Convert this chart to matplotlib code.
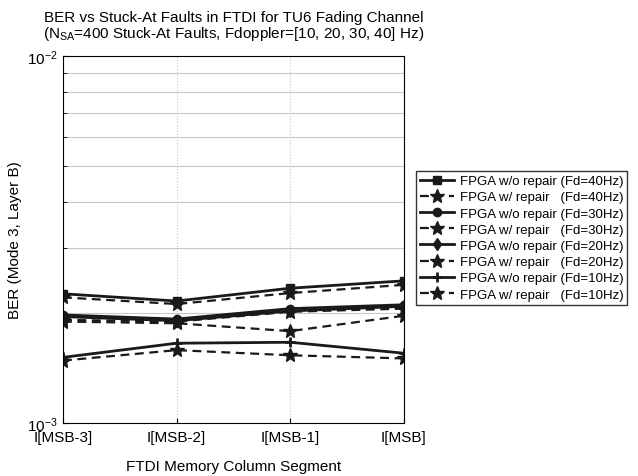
import matplotlib
matplotlib.use("Agg")
import matplotlib.pyplot as plt
import numpy as np

plt.rcParams['font.family'] = ['Liberation Sans', 'DejaVu Sans']
plt.rcParams['mathtext.fontset'] = 'custom'
plt.rcParams['mathtext.rm'] = 'Liberation Sans'
plt.rcParams['mathtext.it'] = 'Liberation Sans:italic'

segments = ['I[MSB-3]', 'I[MSB-2]', 'I[MSB-1]', 'I[MSB]']

# BER values (x 1e-3)
ber_40_wo = [2.25, 2.15, 2.33, 2.44]
ber_40_w = [2.20, 2.11, 2.26, 2.38]
ber_30_wo = [1.97, 1.92, 2.05, 2.10]
ber_30_w = [1.91, 1.89, 2.01, 2.05]
ber_20_wo = [1.95, 1.90, 2.02, 2.08]
ber_20_w = [1.89, 1.87, 1.78, 1.96]
ber_10_wo = [1.51, 1.65, 1.66, 1.55]
ber_10_w = [1.48, 1.58, 1.53, 1.50]

fig = plt.figure(figsize=(6.38, 4.77), dpi=100)
ax = fig.add_axes([0.0987, 0.111, 0.534, 0.7695])

x = np.arange(len(segments))
c = '#1a1a1a'

series = [
    (ber_40_wo, '-', 's', 'FPGA w/o repair (Fd=40Hz)'),
    (ber_40_w, '--', '*', 'FPGA w/ repair   (Fd=40Hz)'),
    (ber_30_wo, '-', 'o', 'FPGA w/o repair (Fd=30Hz)'),
    (ber_30_w, '--', '*', 'FPGA w/ repair   (Fd=30Hz)'),
    (ber_20_wo, '-', 'd', 'FPGA w/o repair (Fd=20Hz)'),
    (ber_20_w, '--', '*', 'FPGA w/ repair   (Fd=20Hz)'),
    (ber_10_wo, '-', '+', 'FPGA w/o repair (Fd=10Hz)'),
    (ber_10_w, '--', '*', 'FPGA w/ repair   (Fd=10Hz)'),
]

for vals, ls, mk, lab in series:
    y = np.array(vals) * 1e-3
    if mk == '*':
        ax.plot(x, y, color=c, ls=ls, lw=1.6, marker=mk, markersize=10, label=lab, dashes=(4, 2.5))
    elif mk == '+':
        ax.plot(x, y, color=c, ls=ls, lw=2, marker=mk, markersize=7, markeredgewidth=2, label=lab)
    else:
        ax.plot(x, y, color=c, ls=ls, lw=2, marker=mk, markersize=6, label=lab)

ax.set_yscale('log')
ax.set_ylim(1e-3, 1e-2)
ax.set_xlim(0, 3)
ax.set_xticks(x)
ax.set_xticklabels(segments, fontsize=11)
ax.set_yticks([1e-3, 1e-2])
ax.set_yticklabels(['$10^{-3}$', '$10^{-2}$'], fontsize=11)
ax.tick_params(which='both', direction='in', top=False, right=False)
ax.tick_params(axis='x', pad=5)
ax.tick_params(axis='y', which='minor', length=3, labelleft=False)
ax.grid(True, axis='y', which='minor', color='#c8c8c8', ls='-', lw=0.8)
ax.grid(True, axis='x', which='major', color='#c8c8c8', ls=':', lw=0.8)
ax.set_axisbelow(True)

ax.set_xlabel('FTDI Memory Column Segment', fontsize=11, labelpad=11)
ax.set_ylabel('BER (Mode 3, Layer B)', fontsize=11, labelpad=4)
ax.set_title('BER vs Stuck-At Faults in FTDI for TU6 Fading Channel\n'
             '(N$_{\\mathrm{SA}}$=400 Stuck-At Faults, Fdoppler=[10, 20, 30, 40] Hz)',
             fontsize=11, linespacing=0.95, pad=14)

leg = fig.legend(loc='upper left', bbox_to_anchor=(416 / 638, 1 - 172 / 477),
                 fontsize=9.5, frameon=True, fancybox=False, handlelength=2.6,
                 handletextpad=0.4, labelspacing=0.3, borderpad=0.3, borderaxespad=0)
leg.get_frame().set_edgecolor('black')
leg.get_frame().set_linewidth(1)

fig.savefig('out.png', dpi=100)
